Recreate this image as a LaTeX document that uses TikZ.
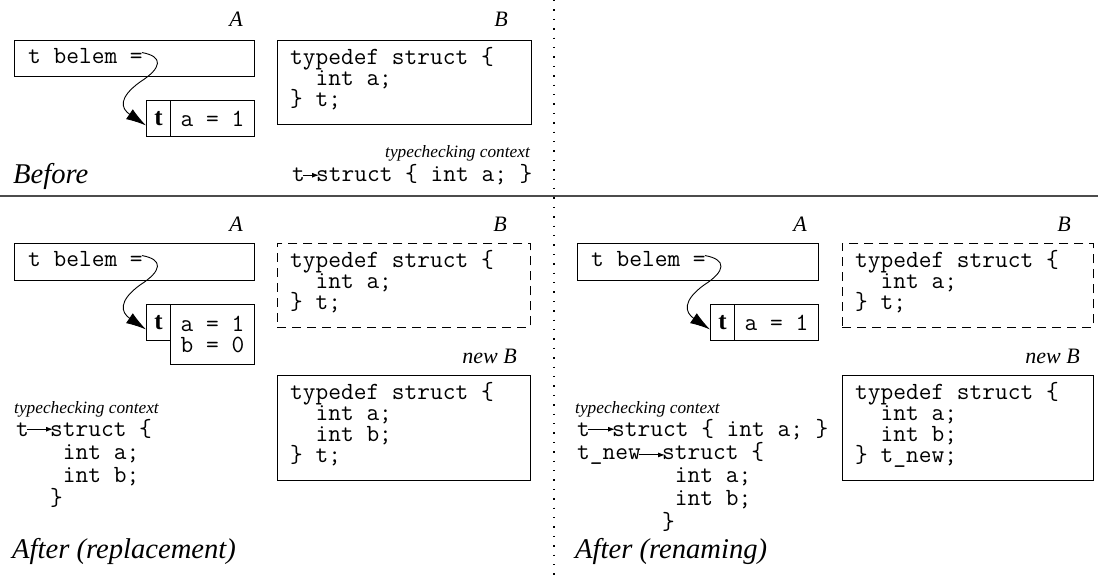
\documentclass[tikz,border=0pt]{standalone}
\usepackage{fontspec}
\setmainfont{Liberation Serif}
\usetikzlibrary{arrows.meta,calc}
\newcommand\codefont{\ttfamily\fontsize{24.7}{21}\selectfont}
\newcommand\ctxfont{\ttfamily\fontsize{24.7}{23.3}\selectfont}
\tikzset{
  box/.style={draw, line width=0.9pt, inner sep=0pt, anchor=north west},
  dbox/.style={box, dash pattern=on 9pt off 6pt},
  % multi-line code nodes are placed by the baseline of their last line
  code/.style={font=\codefont, inner sep=0pt, anchor=base west, align=left},
  ctxcode/.style={font=\ctxfont, inner sep=0pt, anchor=base west, align=left},
  lbl/.style={font=\itshape\fontsize{22}{24}\selectfont, inner sep=0pt, anchor=base east},
  ctxlbl/.style={font=\itshape\fontsize{17.3}{19}\selectfont, inner sep=0pt},
  caption/.style={font=\itshape\fontsize{28.6}{30}\selectfont, inner sep=0pt, anchor=base west},
  tag/.style={box, font=\bfseries\fontsize{25}{26}\selectfont},
  val/.style={box, font=\codefont, align=left},
  ptr/.style={line width=0.9pt, -{Latex[length=20pt,width=12pt]}},
  maps/.style={line width=0.9pt, -{Latex[length=7pt,width=5pt]}, shorten <=-2pt, shorten >=-3pt},
  sepline/.style={line width=1.4pt, black!70},
  dotline/.style={line width=1.5pt, dash pattern=on 1.4pt off 8pt},
}
\begin{document}
\begin{tikzpicture}[x=1pt, y=-1pt]
\useasboundingbox (0,0) rectangle (1098,577);

% panel separators
\draw[sepline] (0,196) -- (1098,196);
\draw[dotline] (554,0) -- (554,577);

% ---------------- Before ----------------
\node[lbl] (lA1) at (243,27) {A};
\node[box, minimum width=240, minimum height=36] (bA1) at (14,40) {};
\node[code] (tA1) at (28,64) {t belem =};
\node[tag, minimum width=24, minimum height=36] (cT1) at (146,100) {t};
\node[val, minimum width=84, minimum height=36] (cV1) at (170,100) {a = 1};
\coordinate (k1) at (140,82);
\draw[ptr] ($(tA1.east)+(-1,-4)$) .. controls +(22,4) and +(22,-14) .. (k1)
  .. controls +(-22,16) and +(-25,-17) .. ($(cT1.west)+(0,7)$);

\node[lbl] (lB1) at (508,27) {B};
\node[box, minimum width=254, minimum height=84] (bB1) at (277,40) {};
\node[code] (sB1) at (290,107) {typedef struct \{\\\ \ int a;\\\} t;};

\node[ctxlbl, anchor=base east] (ctx1) at (530,158) {typechecking context};
\node[ctxcode] (ct1) at (292,182) {t};
\node[ctxcode] (cs1) at (316,182) {struct \{ int a; \}};
\draw[maps] (ct1.east) -- (ct1.east -| cs1.west);

\node[caption] (cap1) at (13,184) {Before};

% ---------------- After (replacement) ----------------
\node[lbl] (lA2) at (243,232) {A};
\node[box, minimum width=240, minimum height=37] (bA2) at (14,243) {};
\node[code] (tA2) at (28,267) {t belem =};
\node[tag, minimum width=24, minimum height=36] (cT2) at (146,304) {t};
\node[val, minimum width=84, minimum height=60] (cV2) at (170,304) {a = 1\\b = 0};
\coordinate (k2) at (140,285);
\draw[ptr] ($(tA2.east)+(-1,-4)$) .. controls +(22,4) and +(22,-14) .. (k2)
  .. controls +(-22,16) and +(-25,-17) .. ($(cT2.west)+(0,7)$);

\node[lbl] (lB2) at (507,232) {B};
\node[dbox, minimum width=253, minimum height=84] (bB2) at (277,243) {};
\node[code] (sB2) at (290,310) {typedef struct \{\\\ \ int a;\\\} t;};

\node[lbl] (lN2) at (517,363) {new B};
\node[box, minimum width=253, minimum height=105] (bN2) at (277,375) {};
\node[code] (sN2) at (290,462) {typedef struct \{\\\ \ int a;\\\ \ int b;\\\} t;};

\node[ctxlbl, anchor=base west] (ctx2) at (14,413) {typechecking context};
\node[ctxcode] (ct2) at (16,436) {t};
\node[ctxcode] (cs2) at (50,505.9) {struct \{\\\ int a;\\\ int b;\\\}};
\draw[maps] (ct2.east) -- (ct2.east -| cs2.west);

\node[caption] (cap2) at (12,558) {After (replacement)};

% ---------------- After (renaming) ----------------
\node[lbl] (lA3) at (807,232) {A};
\node[box, minimum width=241, minimum height=37] (bA3) at (577,243) {};
\node[code] (tA3) at (591,267) {t belem =};
\node[tag, minimum width=24, minimum height=36] (cT3) at (710,304) {t};
\node[val, minimum width=84, minimum height=36] (cV3) at (734,304) {a = 1};
\coordinate (k3) at (704,285);
\draw[ptr] ($(tA3.east)+(-1,-4)$) .. controls +(22,4) and +(22,-14) .. (k3)
  .. controls +(-22,16) and +(-25,-17) .. ($(cT3.west)+(0,7)$);

\node[lbl] (lB3) at (1071,232) {B};
\node[dbox, minimum width=251, minimum height=84] (bB3) at (842,243) {};
\node[code] (sB3) at (855,310) {typedef struct \{\\\ \ int a;\\\} t;};

\node[lbl] (lN3) at (1080,363) {new B};
\node[box, minimum width=251, minimum height=105] (bN3) at (842,375) {};
\node[code] (sN3) at (855,462) {typedef struct \{\\\ \ int a;\\\ \ int b;\\\} t\_new;};

\node[ctxlbl, anchor=base west] (ctx3) at (575,413) {typechecking context};
\node[ctxcode] (ct3) at (577,436) {t};
\node[ctxcode] (cs3) at (612,436) {struct \{ int a; \}};
\draw[maps] (ct3.east) -- (ct3.east -| cs3.west);
\node[ctxcode] (cn3) at (577,459.3) {t\_new};
\node[ctxcode] (cm3) at (662,529.2) {struct \{\\\ int a;\\\ int b;\\\}};
\draw[maps] (cn3.east) -- (cn3.east -| cm3.west);

\node[caption] (cap3) at (575,558) {After (renaming)};
\end{tikzpicture}
\end{document}
